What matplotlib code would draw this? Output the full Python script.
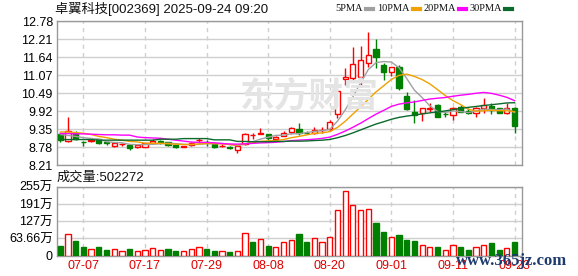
import matplotlib
matplotlib.use("Agg")
import matplotlib.pyplot as plt
from matplotlib.lines import Line2D
import numpy as np
import pandas as pd

plt.rcParams['font.family'] = ['Liberation Sans', 'Noto Sans CJK SC', 'DejaVu Sans']

# daily K-line data, 60 trading days (07-02 .. 09-23)
opens = [9.20, 8.98, 9.24, 8.95, 8.96, 9.03, 8.93, 8.82, 8.88, 8.85,
         8.77, 8.79, 8.90, 8.96, 8.93, 8.85, 8.79, 8.84, 9.00, 8.94,
         8.87, 8.81, 8.77, 8.69, 8.88, 9.16, 9.21, 9.19, 9.03, 9.13,
         9.25, 9.35, 9.24, 9.22, 9.32, 9.35, 9.82, 10.94, 10.97, 11.02,
         11.44, 11.89, 11.39, 11.18, 11.34, 10.40, 9.91, 9.87, 10.00, 10.12,
         9.84, 9.80, 10.06, 9.94, 9.86, 10.01, 10.10, 10.01, 9.86, 10.01]
closes = [9.01, 9.30, 9.03, 8.93, 9.00, 8.90, 8.90, 8.90, 8.89, 8.74,
          8.85, 8.90, 8.97, 8.95, 8.85, 8.77, 8.80, 8.92, 9.01, 8.93,
          8.79, 8.83, 8.75, 8.82, 9.20, 9.17, 9.22, 9.06, 9.11, 9.24,
          9.38, 9.24, 9.23, 9.32, 9.33, 9.59, 10.55, 11.00, 11.41, 11.55,
          11.71, 11.65, 11.18, 11.33, 10.65, 9.98, 9.80, 10.01, 10.02, 9.75,
          9.83, 10.03, 9.91, 9.87, 10.01, 10.12, 9.96, 9.86, 10.01, 9.46]
highs = [9.23, 9.75, 9.28, 8.97, 9.03, 9.04, 8.94, 8.93, 8.92, 8.86,
         8.86, 8.92, 9.03, 9.02, 8.94, 8.86, 8.83, 8.94, 9.06, 8.99,
         8.88, 8.88, 8.81, 8.83, 9.22, 9.22, 9.38, 9.20, 9.13, 9.29,
         9.43, 9.54, 9.29, 9.43, 9.43, 9.64, 10.55, 11.29, 11.97, 12.00,
         12.43, 12.22, 11.44, 11.34, 11.39, 10.54, 10.28, 10.02, 10.17, 10.15,
         9.91, 10.06, 10.12, 10.01, 10.05, 10.33, 10.19, 10.02, 10.17, 10.06]
lows = [8.93, 8.94, 9.00, 8.80, 8.94, 8.87, 8.84, 8.77, 8.83, 8.70,
        8.75, 8.78, 8.87, 8.88, 8.82, 8.75, 8.77, 8.82, 8.90, 8.82,
        8.74, 8.77, 8.71, 8.59, 8.86, 9.03, 9.20, 9.00, 9.01, 9.12,
        9.20, 9.16, 9.19, 9.19, 9.22, 9.29, 9.70, 10.75, 10.84, 10.70,
        11.34, 11.29, 10.91, 11.05, 10.60, 9.96, 9.56, 9.61, 9.89, 9.73,
        9.73, 9.64, 9.88, 9.83, 9.75, 9.86, 9.82, 9.85, 9.83, 9.24]

# volume in 万 shares, and whether the bar is drawn red (up)
vol_last = 502272
volumes = [36, 79, 55, 33, 23, 33, 22, 23, 16, 23,
           16, 20, 27, 20, 26, 18, 18, 23, 34, 26,
           18, 16, 15, 16, 84, 52, 62, 37, 31, 51,
           58, 81, 52, 65, 51, 69, 169, 239, 187, 169,
           173, 120, 89, 69, 78, 59, 56, 40, 33, 33,
           21, 40, 33, 22, 33, 41, 46, 22, 30, vol_last / 1e4]
vol_up = [0, 1, 0, 0, 1, 0, 0, 1, 1, 0,
          1, 1, 1, 1, 0, 0, 1, 1, 1, 0,
          0, 1, 0, 1, 1, 0, 1, 0, 1, 1,
          1, 0, 0, 1, 1, 1, 1, 1, 1, 1,
          1, 0, 0, 1, 0, 0, 0, 1, 1, 0,
          1, 1, 0, 0, 1, 1, 0, 0, 1, 0]

# moving-average values before the window is full
ma_heads = {
    5: [9.18, 9.15, 9.12, 9.08],
    10: [9.26, 9.26, 9.24, 9.22, 9.18, 9.12, 9.08, 9.03, 9.00],
    20: [9.21, 9.21, 9.20, 9.20, 9.19, 9.18, 9.17, 9.17, 9.16, 9.16,
         9.10, 9.08, 9.07, 9.06, 9.03, 9.00, 8.97, 8.94, 8.93],
    30: [9.02, 9.02, 9.02, 9.02, 9.02, 9.00, 9.00, 9.00, 9.00, 9.00,
         9.00, 9.00, 9.00, 9.03, 9.03, 9.03, 9.05, 9.05, 9.05, 9.05,
         9.01, 9.01, 9.01, 8.96, 8.96, 8.95, 8.95, 8.95, 8.96],
}
ma_names = ['5PMA', '10PMA', '20PMA', '30PMA']
ma_colors = ['#a0a0a0', '#f0a000', '#ff00ff', '#0b6a2c']

price_ticks = ['8.21', '8.78', '9.35', '9.92', '10.49', '11.07', '11.64', '12.21', '12.78']
vol_ticks = ['0', '63.66万', '127万', '191万', '255万']
date_pos = [3, 11, 19, 27, 35, 43, 51, 59]
date_labels = ['07-07', '07-17', '07-29', '08-08', '08-20', '09-01', '09-11', '09-23']

RED = '#ff0000'
GREEN = '#008000'
GRID = '#cfcfcf'
W, H = 578, 276

fig = plt.figure(figsize=(W / 100, H / 100), dpi=100)
ax1 = fig.add_axes([57 / W, 1 - 165 / H, 465 / W, 143.7 / H])
ax2 = fig.add_axes([57 / W, 1 - 255.7 / H, 465 / W, 69 / H])

x = np.arange(len(closes))

for ax in (ax1, ax2):
    ax.set_xlim(-0.43, 59.97)
    for s in ax.spines.values():
        s.set_color('#999999')
        s.set_linewidth(1)
    ax.tick_params(length=0, labelsize=9, pad=3)
    ax.set_xticks(date_pos)
    ax.xaxis.grid(True, color=GRID, lw=1, ls=(0, (3, 3)))
    ax.yaxis.grid(True, color=GRID, lw=1)
    ax.set_axisbelow(True)

# price panel
ax1.set_ylim(8.21, 12.78)
ax1.set_yticks(np.linspace(8.21, 12.78, 9))
ax1.set_yticklabels(price_ticks)
ax1.set_xticklabels([])

fig.text(240 / W, 1 - 96 / H, '东方财富', fontsize=25, color='#e4e4e4',
         fontweight='bold', family=['Noto Sans CJK SC'], va='center', zorder=0)

for i in x:
    o, c = opens[i], closes[i]
    up = c >= o
    col = RED if up else GREEN
    ax1.vlines(i, lows[i], highs[i], color=col, lw=1, zorder=2)
    ax1.bar(i, max(abs(c - o), 0.004), bottom=min(o, c), width=0.68,
            facecolor='white' if up else GREEN, edgecolor=col, lw=1, zorder=3)

cl = pd.Series(closes)
for n, name, col in zip([5, 10, 20, 30], ma_names, ma_colors):
    ma = cl.rolling(n).mean().to_numpy()
    ma[:n - 1] = ma_heads[n]
    ax1.plot(x, ma, color=col, lw=1, zorder=4)

# volume panel
ax2.set_ylim(0, 255)
ax2.set_yticks(np.linspace(0, 255, 5))
ax2.set_yticklabels(vol_ticks)
ax2.set_xticklabels(date_labels, color='#e00000', fontsize=9)
ax2.tick_params(axis='x', pad=3)
for i in x:
    if vol_up[i]:
        ax2.bar(i, volumes[i], width=0.68, facecolor='white', edgecolor=RED, lw=1, zorder=3)
    else:
        ax2.bar(i, volumes[i], width=0.68, facecolor=GREEN, edgecolor=GREEN, lw=1, zorder=3)

# header texts
fig.text(55 / W, 1 - 9 / H, '卓翼科技[002369] 2025-09-24 09:20', fontsize=9.5,
         va='center', color='#111111')
fig.text(57 / W, 1 - 177.5 / H, '成交量:%d' % vol_last, fontsize=9.5,
         va='center', color='#111111')

# legend: name then a short colour dash
dash_x = [366, 413, 459, 505]
for dx, name, col in zip(dash_x, ma_names, ma_colors):
    fig.text((dx - 3) / W, 1 - 8.5 / H, name, fontsize=7.5, va='center', ha='right',
             family=['Liberation Serif'], color='#111111')
    fig.add_artist(Line2D([dx / W, (dx + 7) / W], [1 - 8.5 / H] * 2,
                          color=col, lw=3, transform=fig.transFigure))

fig.text(456 / W, 1 - 261 / H, 'www.365jz.com', fontsize=12, color='#1e3a6e',
         family=['Liberation Serif'], fontweight='bold', va='center', zorder=10)

fig.savefig('out.png', dpi=100)
